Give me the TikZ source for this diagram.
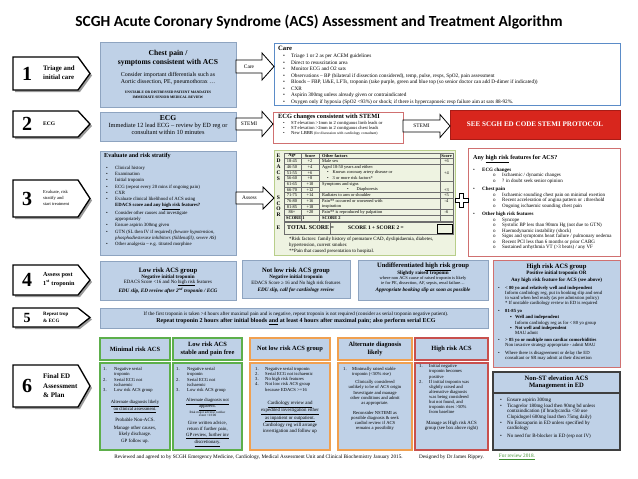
\documentclass[tikz,border=0pt]{standalone}
\usepackage{fontspec}
\setmainfont{Liberation Serif}
\newfontfamily\titlefont{Carlito}
\usetikzlibrary{calc}
\newcommand\fs[2]{\fontsize{#1}{#2}\selectfont}
\newcommand\bl[1][8pt]{\makebox[#1][l]{\textbullet}}
\newcommand\nm[2][11pt]{\makebox[#1][l]{#2}}
\definecolor{bfill}{HTML}{BFD1E7}
\definecolor{bbord}{HTML}{8EA4C0}
\definecolor{careb}{HTML}{5B8CC8}
\definecolor{redb}{HTML}{D07070}
\definecolor{stemif}{HTML}{D8261D}
\definecolor{stemid}{HTML}{A81C16}
\definecolor{gfill}{HTML}{EEF3E1}
\definecolor{gbord}{HTML}{B8CE8A}
\definecolor{grnb}{HTML}{5DAF4B}
\definecolor{orgb}{HTML}{F0A050}
\definecolor{hrcol}{HTML}{C8504D}
\definecolor{darkb}{HTML}{3F3F3F}
\definecolor{shadowc}{HTML}{9A9A9A}
\definecolor{tabc}{HTML}{6E6E6E}
\definecolor{revgreen}{HTML}{3E8E2E}
\tikzset{
  bx/.style={anchor=north west, inner sep=0pt, outer sep=0pt},
  bluebox/.style={bx, draw=bbord, fill=bfill, line width=0.7pt},
  carebox/.style={bx, draw=careb, fill=white, line width=0.9pt},
  redbox/.style={bx, draw=redb, fill=white, line width=0.9pt},
  stemibox/.style={bx, draw=stemid, fill=stemif, line width=0.8pt},
  greenbox/.style={bx, draw=gbord, fill=gfill, line width=0.8pt},
  grnhead/.style={bx, draw=grnb, fill=bfill, line width=1.1pt},
  orghead/.style={bx, draw=orgb, fill=bfill, line width=1.1pt},
  hrhead/.style={bx, draw=hrcol, fill=bfill, line width=1.1pt},
  hrgroup/.style={bx, draw=redb, fill=bfill, line width=0.9pt},
  darkhead/.style={bx, draw=darkb, fill=bfill, line width=1.3pt},
  stepline/.style={draw=black, fill=white, line width=1.3pt},
  arrowline/.style={draw=black, fill=white, line width=0.8pt},
  tabline/.style={draw=tabc, line width=0.35pt},
  tc/.style={inner sep=0pt, align=center},
  tn/.style={inner sep=0pt, align=center, anchor=north},
  tl/.style={inner sep=0pt, align=left, anchor=north west},
  tw/.style={inner sep=0pt, anchor=west},
}
\newcommand\boxat[6]{\node[#1, minimum width={#5-#3}, minimum height={#6-#4}] (#2) at (#3,#4) {};}
\newcommand\stepbox[5]{%
  \fill[shadowc] (15,{#2+2}) -- (80,{#2+2}) -- (92,{(#2+#3)/2+2}) -- (80,{#3+2}) -- (15,{#3+2}) -- cycle;
  \path[stepline] (13,#2) -- (78,#2) -- (90,{(#2+#3)/2}) -- (78,#3) -- (13,#3) -- cycle;
  \node[inner sep=0pt, font=\bfseries\fs{#5}{#5}] (#1n) at (27,{(#2+#3)/2}) {#4};
}
\newcommand\barrow[8]{%
  \path[arrowline] let \p1=(#1.east), \p2=(#2.west), \p3=(0,#3) in
    (\x1,\y3+#4pt) -- (\x2-#6pt,\y3+#4pt) -- (\x2-#6pt,\y3+#5pt) -- (\x2,\y3)
    -- (\x2-#6pt,\y3-#5pt) -- (\x2-#6pt,\y3-#4pt) -- (\x1,\y3-#4pt) -- cycle;
  \path let \p1=(#1.east), \p2=(#2.west), \p3=(0,#3) in
    node[inner sep=0pt, font=\fs{5.4}{6}] (#7) at ({(\x1+\x2-#6pt)/2},\y3) {#8};
}
\begin{document}
\begin{tikzpicture}[x=1pt,y=-1pt]
\useasboundingbox (0,0) rectangle (638,479);
\fill[white] (0,0) rectangle (638,479);

% title
\node[tc, font=\titlefont\bfseries\fs{15.4}{18}] (title) at (319,22) {SCGH Acute Coronary Syndrome (ACS) Assessment and Treatment Algorithm};

% step labels
\stepbox{s1}{57}{90}{1}{20}
\stepbox{s2}{111}{137}{2}{20}
\stepbox{s3}{180}{217}{3}{20}
\stepbox{s4}{265}{295}{4}{20}
\stepbox{s5}{308}{327}{5}{14}
\stepbox{s6}{365}{407}{6}{20}
\node[tw, font=\bfseries\fs{6.8}{7}] (s1a) at (43,69) {Triage and};
\node[tw, font=\bfseries\fs{6.8}{7}] (s1b) at (43,77.6) {initial care};
\node[tw, font=\bfseries\fs{5.5}{6}] (s2a) at (43,124) {ECG};
\node[tw, font=\fs{4.5}{5}] (s3a) at (43,192.4) {Evaluate, risk};
\node[tw, font=\fs{4.5}{5}] (s3b) at (43,198.3) {stratify and};
\node[tw, font=\fs{4.5}{5}] (s3c) at (43,204.2) {start treatment};
\node[tw, font=\bfseries\fs{6.2}{7}] (s4a) at (43,275.5) {Assess post};
\node[tw, font=\bfseries\fs{6.2}{7}] (s4b) at (43,283.5) {1\textsuperscript{st} troponin};
\node[tw, font=\bfseries\fs{5}{6}] (s5a) at (43,314.8) {Repeat trop};
\node[tw, font=\bfseries\fs{5}{6}] (s5b) at (43,321) {\& ECG};
\node[tw, font=\bfseries\fs{7}{8}] (s6a) at (43,376) {Final ED};
\node[tw, font=\bfseries\fs{7}{8}] (s6b) at (43,385.8) {Assessment};
\node[tw, font=\bfseries\fs{7}{8}] (s6c) at (43,395.6) {\& Plan};

% boxes
\boxat{bluebox}{chest}{100}{42}{236}{107}
\boxat{carebox}{care}{274}{43}{620}{105}
\boxat{bluebox}{ecg}{100}{112}{236}{141}
\boxat{redbox}{ecgc}{273}{112}{403}{143}
\boxat{stemibox}{stemi}{450}{110}{620}{139}
\boxat{bluebox}{eval}{100}{151}{236}{255}
\boxat{greenbox}{edacs}{274}{150}{455}{255}
\boxat{redbox}{hrf}{468}{148}{620}{256}
\boxat{bluebox}{g4low}{100}{261}{236}{300}
\boxat{bluebox}{g4notlow}{242}{260}{350}{298}
\boxat{bluebox}{g4undiff}{358}{260}{488}{300}
\boxat{hrgroup}{g4high}{493}{260}{620}{367}
\boxat{bluebox}{rep}{100}{308}{488}{328}
\boxat{grnhead}{minh}{100}{338}{170}{360}
\boxat{grnhead}{minb}{100}{363}{170}{450}
\boxat{grnhead}{lowh}{173}{338}{242}{360}
\boxat{grnhead}{lowb}{173}{363}{242}{450}
\boxat{orghead}{nlh}{250}{338}{330}{360}
\boxat{orghead}{nlb}{250}{363}{330}{450}
\boxat{orghead}{alth}{338}{338}{412}{360}
\boxat{orghead}{altb}{338}{363}{412}{450}
\boxat{hrhead}{hrh}{415}{338}{488}{360}
\boxat{hrhead}{hrbody}{415}{363}{488}{450}
\boxat{darkhead}{nsb}{493}{393}{620}{450}
\boxat{darkhead}{nsh}{493}{372}{620}{393}

% block arrows
\barrow{chest}{care}{66.5}{6.5}{13.5}{12}{acare}{Care}
\barrow{ecg}{ecgc}{124}{6}{12.5}{11}{astemi}{STEMI}
\barrow{eval}{edacs}{198}{6}{11}{11}{aassess}{Assess}
\barrow{ecgc}{stemi}{126}{6}{11.5}{10}{astemib}{STEMI}

% plus sign
\path[arrowline] (459.5,193) -- (463.5,193) -- (463.5,198) -- (468,198) -- (468,202) -- (463.5,202) -- (463.5,207) -- (459.5,207) -- (459.5,202) -- (455,202) -- (455,198) -- (459.5,198) -- cycle;

% chest pain box
\node[tn, font=\bfseries\fs{7.6}{9}] (chestt) at (168,49.6) {Chest pain /\\symptoms consistent with ACS};
\node[tn, font=\fs{5.9}{7}] (chestd) at (168,72.4) {Consider important differentials such as\\Aortic dissection, PE, pneumothorax …};
\node[tn, font=\bfseries\fs{3.6}{4.5}] (chestu) at (168,91.4) {UNSTABLE OR DISTRESSED PATIENT MANDATES\\IMMEDIATE SENIOR MEDICAL REVIEW};

% care box
\node[tl, font=\bfseries\fs{6.6}{7}] (caret) at (278,46) {Care};
\node[tl, font=\fs{5.25}{6.5}] (carel) at (283,53.8) {\bl Triage 1 or 2 as per ACEM guidelines\\
\bl Direct to resuscitation area\\
\bl Monitor ECG and O2 sats\\
\bl Observations – BP (bilateral if dissection considered), temp, pulse, resps, SpO2, pain assessment\\
\bl Bloods – FBP, U\&E, LFTs, troponin (take purple, green and blue top (so senior doctor can add D-dimer if indicated))\\
\bl CXR\\
\bl Aspirin 300mg unless already given or contraindicated\\
\bl Oxygen only if hypoxia (SpO2 <93\%) or shock; if there is hypercapnoeic resp failure aim at sats 88-92\%.};

% ECG box
\node[tc, font=\bfseries\fs{7.6}{9}] (ecgt) at (168,118.5) {ECG};
\node[tn, font=\fs{6.3}{6.5}] (ecgd) at (168,123.2) {Immediate 12 lead ECG – review by ED reg or\\consultant within 10 minutes};

% ECG changes
\node[tl, font=\bfseries\fs{6.4}{7}] (ecgct) at (278,114.2) {ECG changes consistent with STEMI};
\node[tl, font=\fs{4.6}{5.3}] (ecgcl) at (283,121) {\bl ST elevation >1mm in 2 contiguous limb leads or\\
\bl ST elevation >2mm in 2 contiguous chest leads\\
\bl New LBBB {\fs{3.7}{5.3}(for discussion with cardiology consultant)}};

% STEMI protocol
\node[tc, text=white, font=\bfseries\fs{7.1}{8}] (stemit) at (535,124.5) {SEE SCGH ED CODE STEMI PROTOCOL};

% evaluate box
\node[tl, font=\bfseries\fs{6.1}{7}] (evalt) at (104,153.3) {Evaluate and risk stratify};
\node[tl, font=\fs{4.8}{6.25}] (evall) at (106,165.9) {\bl[9pt]Clinical history\\
\bl[9pt]Examination\\
\bl[9pt]Initial troponin\\
\bl[9pt]ECG (repeat every 20 mins if ongoing pain)\\
\bl[9pt]CXR\\
\bl[9pt]Evaluate clinical likelihood of ACS using\\
\hspace*{9pt}\textbf{EDACS score and any \underline{high risk} features?}\\
\bl[9pt]Consider other causes and investigate\\
\hspace*{9pt}appropriately\\
\bl[9pt]Ensure aspirin 300mg given\\
\bl[9pt]GTN (SL then IV if required) \textit{(beware hypotension,}\\
\hspace*{9pt}\textit{phosphodiesterase inhibitors (Sildenafil), severe AS)}\\
\bl[9pt]Other analgesia – e.g. titrated morphine};

% EDACS table
\draw[tabline] (284,153) rectangle (453,220.8);
\foreach \k in {1,...,11} \draw[tabline] (284,{153+\k*5.65}) -- (319,{153+\k*5.65});
\foreach \k in {1,2,5,7,8,10,11} \draw[tabline] (319,{153+\k*5.65}) -- (453,{153+\k*5.65});
\foreach \xx in {301,319,440} \draw[tabline] (\xx,153) -- (\xx,220.8);
\draw[tabline] (284,221.8) rectangle (453,234);
\draw[tabline] (330,221.8) -- (330,234);
\draw[line width=0.9pt] (437,224.5) rectangle (452,233);
\foreach \ch/\yy [count=\i] in {E/155.5,D/161.2,A/167,C/173,S/179,S/197.5,C/203.3,O/209.1,R/214.9,E/227.5}
  \node[tc, font=\bfseries\fs{5.5}{6}] (let\i) at (278.5,\yy) {\ch};
\node[tc, font=\bfseries\fs{4.4}{5}] (hage) at (292,155.8) {Age};
\node[tc, font=\bfseries\fs{4.4}{5}] (hsc1) at (310,155.8) {Score};
\node[tw, font=\bfseries\fs{4.4}{5}] (hoth) at (322,155.8) {Other factors};
\node[tc, font=\bfseries\fs{4.4}{5}] (hsc2) at (446.5,155.8) {Score};
\foreach \a/\s [count=\i] in {18-45/+2,46-50/+4,51-55/+6,56-60/+8,61-65/+10,66-70/+12,71-75/+14,76-80/+16,81-85/+18,86+/+20} {
  \node[tc, font=\fs{4.4}{5}] (age\i) at (292,{153+(\i+0.5)*5.65}) {\a};
  \node[tc, font=\fs{4.4}{5}] (asc\i) at (310,{153+(\i+0.5)*5.65}) {\s};
}
\node[tw, font=\bfseries\fs{4.4}{5}] (sc1) at (286,218) {SCORE 1};
\foreach \t [count=\i] in {Male sex,Aged 18-50 years and either:,\hspace*{5pt}\textbullet\hspace{4pt}Known coronary artery disease or,\hspace*{5pt}\textbullet\hspace{4pt}3 or more risk factors*,Symptoms and signs,\hspace*{25pt}\textbullet\hspace{8pt}Diaphoresis,Radiates to arm or shoulder,Pain** occurred or worsened with,inspiration,Pain** is reproduced by palpation}
  \node[tw, font=\fs{4.4}{5}] (oth\i) at (322,{153+(\i+0.5)*5.65}) {\t};
\node[tw, font=\bfseries\fs{4.4}{5}] (sc2) at (322,218) {SCORE 2};
\foreach \v/\yy [count=\i] in {+6/161.5,+4/172.8,+3/189.7,+5/195.4,-4/201,-6/212.3}
  \node[tc, font=\fs{4.4}{5}] (rsc\i) at (446.5,\yy) {\v};
\node[tw, font=\bfseries\fs{5.9}{6}] (tot) at (287,228) {TOTAL SCORE =};
\node[tc, font=\bfseries\fs{5.4}{6}] (tot2) at (376,228) {SCORE 1 + SCORE 2 =};
\node[tl, font=\fs{4.9}{6.2}] (foot) at (289,236.8) {*Risk factors: family history of premature CAD, dyslipidaemia, diabetes,\\hypertension, current smoker.\\**Pain that caused presentation to hospital.};

% high risk features
\node[tl, font=\bfseries\fs{6.1}{7}] (hrft) at (473,155.3) {Any \underline{high risk} features for ACS?};
\node[tl, font=\fs{5}{5.5}] (hrfl) at (473,167.8) {\bl[9pt]\textbf{ECG changes}\\
\hspace*{20pt}\makebox[9pt][l]{o}Ischaemic / dynamic changes\\
\hspace*{20pt}\makebox[9pt][l]{o}? in doubt seek senior opinion\\[2.8pt]
\bl[9pt]\textbf{Chest pain}\\
\hspace*{20pt}\makebox[9pt][l]{o}Ischaemic sounding chest pain on minimal exertion\\
\hspace*{20pt}\makebox[9pt][l]{o}Recent acceleration of angina pattern or ↓threshold\\
\hspace*{20pt}\makebox[9pt][l]{o}Ongoing ischaemic sounding chest pain\\[3.2pt]
\bl[9pt]\textbf{Other high risk features}\\
\hspace*{20pt}\makebox[9pt][l]{o}Syncope\\
\hspace*{20pt}\makebox[9pt][l]{o}Systolic BP less than 90mm Hg (not due to GTN)\\
\hspace*{20pt}\makebox[9pt][l]{o}Haemodynamic instability (shock)\\
\hspace*{20pt}\makebox[9pt][l]{o}Signs and symptoms heart failure / pulmonary oedema\\
\hspace*{20pt}\makebox[9pt][l]{o}Recent PCI less than 6 months or prior CABG\\
\hspace*{20pt}\makebox[9pt][l]{o}Sustained arrhythmia VT (>3 beats) / any VF};

% row 4
\node[tc, font=\bfseries\fs{6.6}{7}] (g4lowt) at (168,270.5) {Low risk ACS group};
\node[tc, font=\bfseries\fs{5.1}{6}] (g4lown) at (168,277.3) {Negative initial troponin};
\node[tc, font=\fs{4.9}{6}] (g4lowe) at (168,283) {EDACS Score <16 and No \underline{high risk} features};
\node[tc, font=\bfseries\itshape\fs{5.2}{6}] (g4lowd) at (168,290.5) {EDU slip, ED review after 2\textsuperscript{nd} troponin / ECG};

\node[tc, font=\bfseries\fs{6.6}{7}] (g4nlt) at (296,270.5) {Not low risk ACS group};
\node[tc, font=\bfseries\fs{5.1}{6}] (g4nln) at (296,277.3) {Negative initial troponin};
\node[tc, font=\fs{4.9}{6}] (g4nle) at (296,283) {EDACS Score ≥ 16 and No high risk features};
\node[tc, font=\bfseries\itshape\fs{5.2}{6}] (g4nld) at (296,290.5) {EDU slip, call for cardiology review};

\node[tc, font=\bfseries\fs{6.6}{7}] (g4ut) at (423,267) {Undifferentiated \underline{high risk} group};
\node[tc, font=\bfseries\fs{5.1}{6}] (g4un) at (423,273.3) {Slightly raised troponin};
\node[tn, font=\fs{4.4}{5}] (g4ue) at (423,276.3) {where non ACS cause of raised troponin is likely\\ie for PE, dissection, AF, sepsis, renal failure…};
\node[tc, font=\bfseries\itshape\fs{5.2}{6}] (g4ud) at (423,290) {Appropriate booking slip as soon as possible};

\node[tc, font=\bfseries\fs{6.6}{7}] (g4ht) at (556.5,267) {High risk ACS group};
\node[tc, font=\bfseries\fs{5.1}{6}] (g4hn) at (556.5,273.5) {Positive initial troponin OR};
\node[tc, font=\bfseries\fs{5.1}{6}] (g4ha) at (556.5,280) {Any high risk feature for ACS (see above)};
\node[tl, font=\fs{4.7}{5.1}] (g4hl) at (498,286) {\bl[7pt]\textbf{< 80 yo and relatively well and independent}\\
\hspace*{7pt}Inform cardiology reg, put in booking slip and send\\
\hspace*{7pt}to ward when bed ready (as per admission policy)\\
\hspace*{7pt}* If unstable cardiology review in ED is required\\[2.5pt]
\bl[7pt]\textbf{81-85 yo}\\[1.5pt]
\hspace*{12pt}\makebox[5pt][l]{▪}\textbf{Well and independent}\\
\hspace*{17pt}Inform cardiology reg as for < 80 yo group\\
\hspace*{12pt}\makebox[5pt][l]{▪}\textbf{Not well and independent}\\
\hspace*{17pt}MAU admit\\[2pt]
\bl[7pt]\textbf{> 85 yo or multiple non cardiac comorbidities}\\
\hspace*{7pt}Non invasive strategy appropriate - admit MAU\\[2.5pt]
\bl[7pt]Where there is disagreement or delay the ED\\
\hspace*{7pt}consultant or SR may admit at their discretion};

% row 5
\node[tc, font=\fs{5.1}{6}] (rep1) at (296,314) {If the first troponin is taken >4 hours after maximal pain and is negative, repeat troponin is not required (consider as serial troponin negative patient).};
\node[tc, font=\bfseries\fs{6}{7}] (rep2) at (296,321.5) {Repeat troponin 2 hours after initial bloods \underline{and} at least 4 hours after maximal pain; also perform serial ECG};

% row 6 headers
\node[tc, font=\bfseries\fs{6.4}{7.5}] (minht) at (135,349) {Minimal risk ACS};
\node[tc, font=\bfseries\fs{6.4}{7.5}] (lowht) at (207.5,349) {Low risk ACS\\stable and pain free};
\node[tc, font=\bfseries\fs{6.4}{7.5}] (nlht) at (290,349) {Not low risk ACS group};
\node[tc, font=\bfseries\fs{6.4}{7.5}] (altht) at (375,349) {Alternate diagnosis\\likely};
\node[tc, font=\bfseries\fs{6.4}{7.5}] (hrht) at (451.5,349) {High risk ACS};

% minimal risk body
\node[tl, font=\fs{4.6}{5.4}] (minl) at (103,367) {\nm{1.}Negative serial\\ \hspace*{11pt}troponin\\ \nm{2.}Serial ECG not\\ \hspace*{11pt}ischaemic\\ \nm{3.}Low risk ACS group};
\node[tn, font=\fs{4.7}{6}] (mina) at (135,399.9) {\underline{Alternate diagnosis likely}\\\underline{on clinical assessment.}};
\node[tc, font=\fs{4.9}{6}] (minp) at (135,420) {Probable Non-ACS.};
\node[tn, font=\fs{4.9}{6.5}] (minm) at (135,425.8) {Manage other causes,\\likely discharge.\\GP follow up.};

% low risk body
\node[tl, font=\fs{4.6}{5.4}] (lowl) at (176,367) {\nm{1.}Negative serial\\ \hspace*{11pt}troponin\\ \nm{2.}Serial ECG not\\ \hspace*{11pt}ischaemic\\ \nm{3.}Low risk ACS group};
\node[tn, font=\fs{4.6}{5.5}] (lowa) at (207.5,398) {\underline{Alternate diagnosis not}\\\underline{apparent.}};
\node[tn, font=\fs{3.3}{3.8}] (lowr) at (207.5,410.6) {Risk major adverse cardiac\\event <1/100};
\node[tn, font=\fs{4.8}{6}] (lowgv) at (207.5,420.9) {Give written advice,\\return if further pain,\\\underline{GP review, further inv}\\\underline{discretionary.}};

% not low risk body
\node[tl, font=\fs{4.6}{5.2}] (nll) at (255,367) {\nm[10pt]{1.}Negative serial troponin\\ \nm[10pt]{2.}Serial ECG not ischaemic\\ \nm[10pt]{3.}No high risk features\\ \nm[10pt]{4.}Not low risk ACS group\\ \hspace*{10pt}because EDACS >=16};
\node[tn, font=\fs{4.9}{5.3}] (nlc) at (290,400.8) {\underline{Cardiology review and}\\\underline{expedited investigation either}\\\underline{as inpatient or outpatient.}};
\node[tn, font=\fs{4.9}{6}] (nlr) at (290,422.8) {Cardiology reg will arrange\\investigation and follow up};

% alternate diagnosis body
\node[tl, font=\fs{4.6}{5.3}] (altl) at (343,367) {\nm[9pt]{1.}Minimally raised stable\\ \hspace*{9pt}troponin (<50\% rise)};
\node[tn, font=\fs{4.6}{5.3}] (altc) at (375,380) {Clinically considered\\unlikely to be of ACS origin};
\node[tn, font=\fs{4.6}{5.3}] (alti) at (375,391) {Investigate and manage\\other conditions and admit\\as appropriate.};
\node[tn, font=\fs{4.6}{5.2}] (altr) at (375,411) {Reconsider NSTEMI as\\possible diagnosis \& seek\\cardiol review if ACS\\remains a possibility};

% high risk body
\node[tl, font=\fs{4.6}{5.1}] (hrl) at (419,364.5) {\nm[10pt]{1.}Initial negative\\ \hspace*{10pt}troponin becomes\\ \hspace*{10pt}positive\\ \nm[10pt]{2.}If initial troponin was\\ \hspace*{10pt}slightly raised and\\ \hspace*{10pt}alternative diagnosis\\ \hspace*{10pt}was being considered\\ \hspace*{10pt}but not found, and\\ \hspace*{10pt}troponin rises >50\%\\ \hspace*{10pt}from baseline};
\node[tn, font=\fs{4.8}{5.3}] (hrm) at (451.5,420.8) {Manage as High risk ACS\\group (see box above right)};

% NSTEACS
\node[tc, font=\bfseries\fs{6.6}{7.2}] (nsht) at (556.5,382.5) {Non-ST elevation ACS\\Management in ED};
\node[tl, font=\fs{5}{5.4}] (nsl) at (500,397.8) {\bl[7pt]Ensure aspirin 300mg\\[0.5pt]
\bl[7pt]Ticagrelor 180mg load then 90mg bd unless\\
\hspace*{7pt}contraindication (if bradycardia <50 use\\
\hspace*{7pt}Clopidogrel 600mg load then 75mg daily)\\[0.8pt]
\bl[7pt]No Enoxaparin in ED unless specified by\\
\hspace*{7pt}cardiology\\[2pt]
\bl[7pt]No need for B-blocker in ED (esp not IV)};

% footer
\node[tc, font=\fs{5.25}{6}] (foot1) at (258.5,457) {Reviewed and agreed to by SCGH Emergency Medicine, Cardiology, Medical Assessment Unit and Clinical Biochemistry January 2015.};
\node[tc, font=\fs{5.25}{6}] (foot2) at (451.5,457) {Designed by Dr James Rippey.};
\node[tc, font=\fs{5.25}{6}, text=revgreen] (foot3) at (517,457) {\underline{For review 2018.}};
\end{tikzpicture}
\end{document}
